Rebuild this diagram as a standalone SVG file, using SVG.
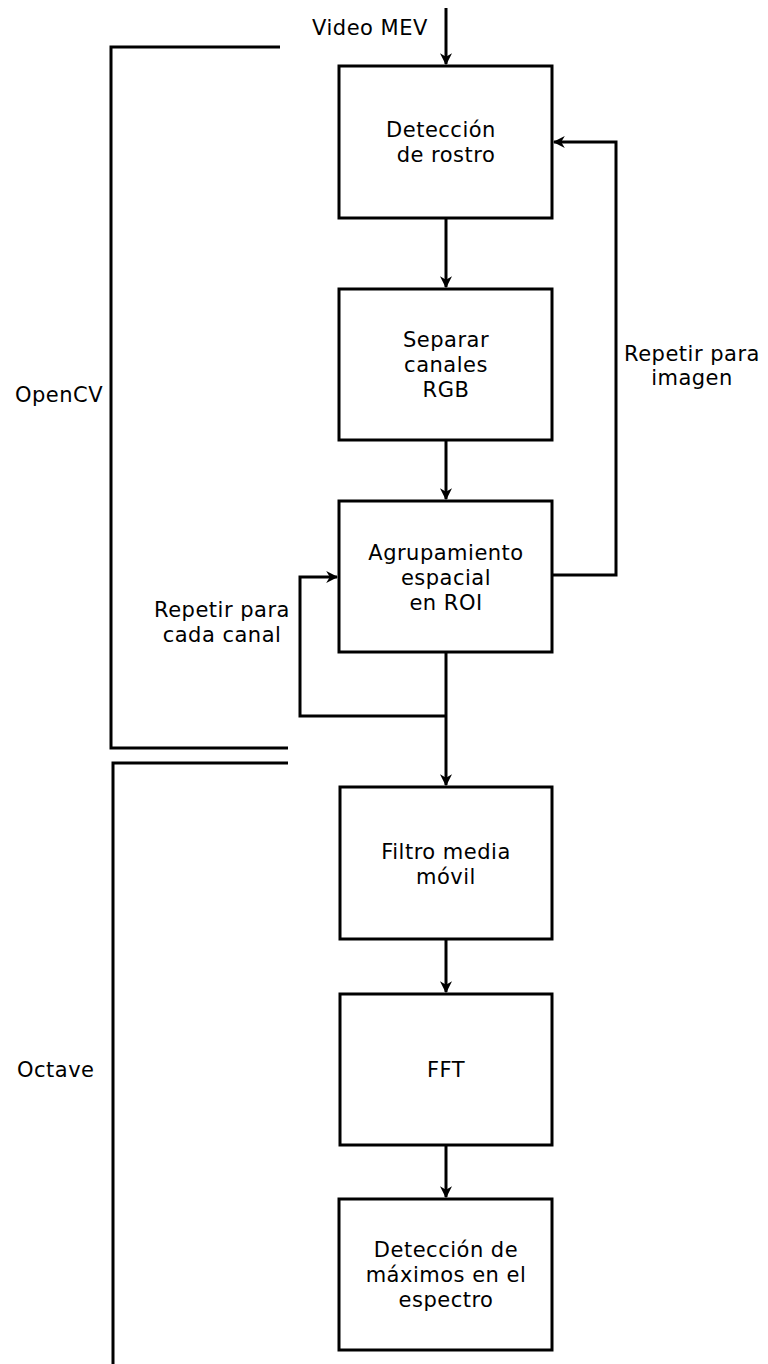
<svg xmlns="http://www.w3.org/2000/svg" width="768" height="1364" viewBox="0 0 768 1364">
  <style>
    .box { fill: #ffffff; stroke: #000000; stroke-width: 3; }
    .wire { fill: none; stroke: #000000; stroke-width: 3; }
    .bracket { fill: none; stroke: #000000; stroke-width: 3; }
    text { font-family: "DejaVu Sans", Verdana, sans-serif; font-size: 21px; fill: #000000; letter-spacing: 0.5px; }
    .c { text-anchor: middle; }
  </style>
  <defs>
    <marker id="arrow" viewBox="0 0 10 10" refX="9" refY="5" markerWidth="4" markerHeight="4" markerUnits="strokeWidth" orient="auto">
      <path d="M0,0 L10,5 L0,10 L3,5 Z" fill="#000000"/>
    </marker>
  </defs>

  <!-- section brackets -->
  <g id="brackets">
    <polyline class="bracket" points="280,47 111,47 111,748 288,748"/>
    <polyline class="bracket" points="288,763 113,763 113,1364"/>
  </g>

  <!-- connectors -->
  <g id="connectors">
    <line class="wire" x1="446" y1="8" x2="446" y2="64" marker-end="url(#arrow)"/>
    <line class="wire" x1="446" y1="218" x2="446" y2="287" marker-end="url(#arrow)"/>
    <line class="wire" x1="446" y1="440" x2="446" y2="499" marker-end="url(#arrow)"/>
    <line class="wire" x1="446" y1="652" x2="446" y2="785" marker-end="url(#arrow)"/>
    <line class="wire" x1="446" y1="939" x2="446" y2="992" marker-end="url(#arrow)"/>
    <line class="wire" x1="446" y1="1145" x2="446" y2="1197" marker-end="url(#arrow)"/>
    <polyline class="wire" points="552,575 616,575 616,142 554,142" marker-end="url(#arrow)"/>
    <polyline class="wire" points="446,716 300,716 300,577 337,577" marker-end="url(#arrow)"/>
  </g>

  <!-- labels -->
  <g id="labels">
    <text x="370" y="35" class="c">Video MEV</text>
    <text x="15" y="402">OpenCV</text>
    <text x="17" y="1077">Octave</text>
    <text x="692" y="361" class="c">Repetir para</text>
    <text x="692" y="385" class="c">imagen</text>
    <text x="222" y="617" class="c">Repetir para</text>
    <text x="222" y="642" class="c">cada canal</text>
  </g>

  <g id="deteccion-rostro">
    <rect class="box" x="339" y="66" width="213" height="152"/>
    <text x="441" y="137" class="c">Detección</text>
    <text x="446" y="162" class="c">de rostro</text>
  </g>

  <g id="separar-canales">
    <rect class="box" x="339" y="289" width="213" height="151"/>
    <text x="446" y="347" class="c">Separar</text>
    <text x="446" y="372" class="c">canales</text>
    <text x="446" y="397" class="c">RGB</text>
  </g>

  <g id="agrupamiento">
    <rect class="box" x="339" y="501" width="213" height="151"/>
    <text x="446" y="560" class="c">Agrupamiento</text>
    <text x="446" y="585" class="c">espacial</text>
    <text x="446" y="610" class="c">en ROI</text>
  </g>

  <g id="filtro-media">
    <rect class="box" x="340" y="787" width="212" height="152"/>
    <text x="446" y="859" class="c">Filtro media</text>
    <text x="446" y="884" class="c">móvil</text>
  </g>

  <g id="fft">
    <rect class="box" x="340" y="994" width="212" height="151"/>
    <text x="446" y="1077" class="c">FFT</text>
  </g>

  <g id="deteccion-maximos">
    <rect class="box" x="339" y="1199" width="213" height="151"/>
    <text x="446" y="1257" class="c">Detección de</text>
    <text x="446" y="1282" class="c">máximos en el</text>
    <text x="446" y="1307" class="c">espectro</text>
  </g>
</svg>
